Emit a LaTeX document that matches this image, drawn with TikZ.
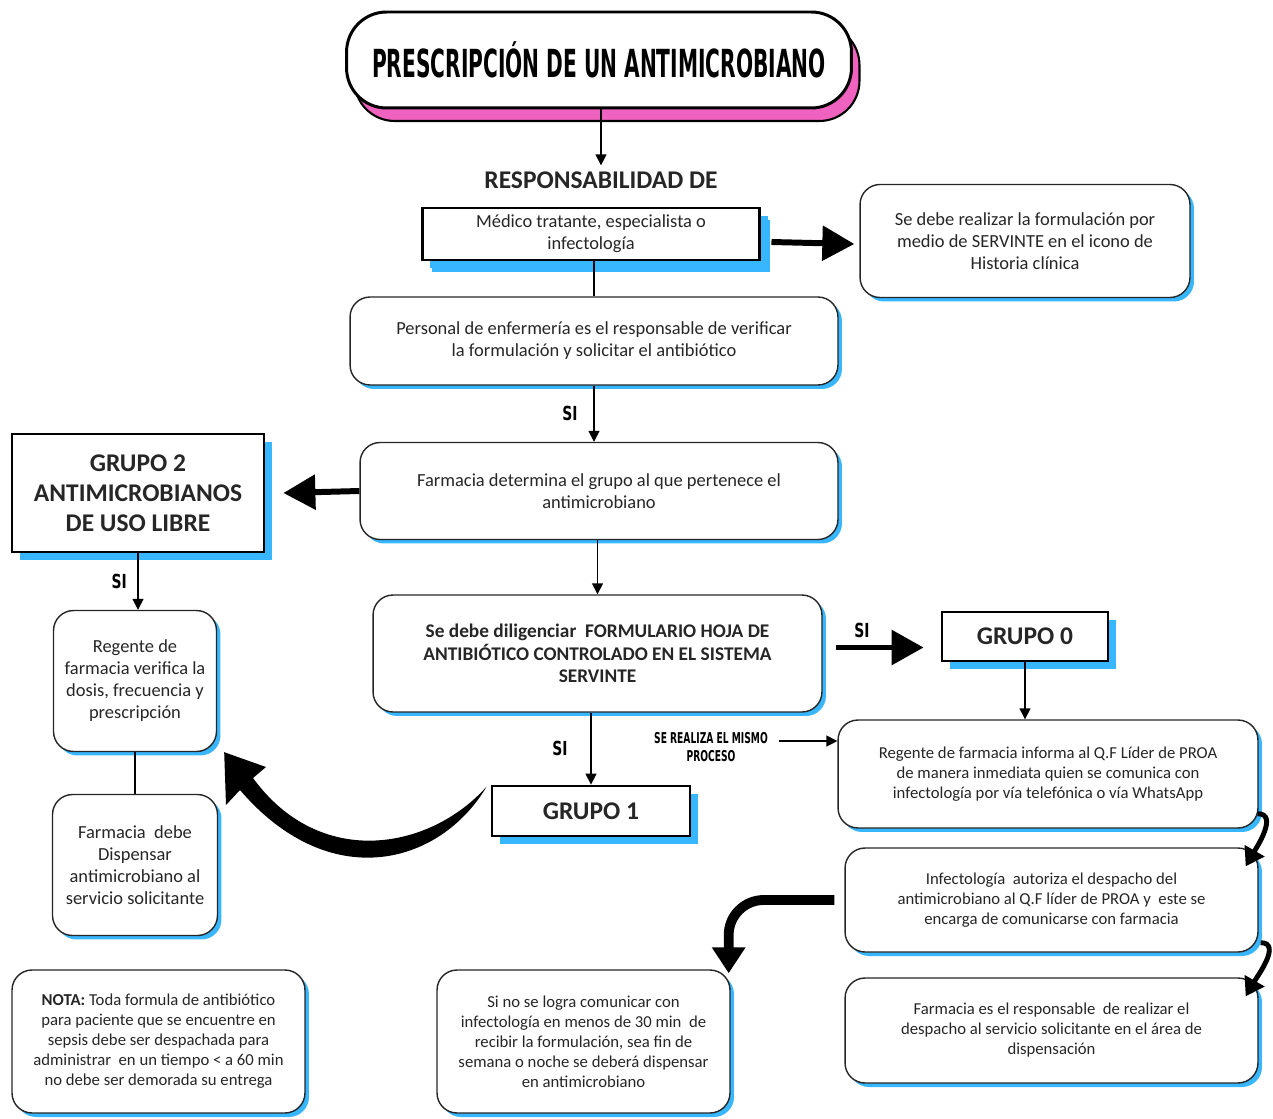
\documentclass[tikz,border=0pt]{standalone}
\usepackage{fontspec}
\setmainfont{Carlito}
\newfontfamily\headfont{DejaVu Sans Condensed}
\usepackage{xcolor}
\usetikzlibrary{arrows.meta, positioning, shadows}
\definecolor{celeste}{RGB}{56,182,255}
\definecolor{rosa}{RGB}{240,98,192}

\begin{document}
\begin{tikzpicture}[
  x=0.02cm, y=-0.02cm,
  rbox/.style={
    draw=black!85,
    fill=white,
    line width=0.8pt,
    rounded corners=0.4cm,
    align=center,
    text=black!85,
    inner sep=2pt,
    drop shadow={shadow xshift=0.08cm, shadow yshift=-0.08cm, fill=celeste, opacity=1}
  },
  gbox/.style={
    draw,
    fill=white,
    line width=1.6pt,
    align=center,
    inner sep=2pt,
    font=\fontsize{14.5}{17}\selectfont\bfseries,
    text=black!85,
    drop shadow={shadow xshift=0.16cm, shadow yshift=-0.16cm, fill=celeste, opacity=1}
  },
  arr/.style={
    -{Triangle[length=2.2mm, width=2.2mm]},
    line width=0.8pt
  },
  bigarr/.style={
    -{Triangle[length=6.4mm, width=6.8mm]},
    line width=3.4pt
  },
  fatarr/.style={
    -{Triangle[length=5.2mm, width=6.4mm]},
    line width=5.6pt
  },
  sidearr/.style={
    -{Triangle[length=3.6mm, width=4.4mm]},
    line width=2.8pt
  },
  lbl/.style={
    font=\headfont\bfseries\fontsize{11}{12}\selectfont,
    inner sep=1pt
  },
  big/.style={font=\fontsize{10.5}{12.5}\selectfont},
  small/.style={font=\fontsize{9.5}{11.4}\selectfont}
]
\useasboundingbox (0,0) rectangle (1273,1118);

% title
\node [draw, fill=white, line width=1.7pt, rounded corners=0.8cm,
       minimum width=10.1cm, minimum height=1.92cm,
       drop shadow={shadow xshift=0.16cm, shadow yshift=-0.26cm, fill=rosa,
                    draw=black, line width=1.2pt, opacity=1}]
  (tit) at (599,60)
  {\scalebox{0.58}[1]{\headfont\bfseries\fontsize{22}{24}\selectfont PRESCRIPCIÓN DE UN ANTIMICROBIANO}};

\node [font=\fontsize{14.5}{16}\selectfont\bfseries, text=black!85] (resp) at (601,180) {RESPONSABILIDAD DE};
\draw [arr] (resp.north |- tit.south) -- (resp.north);

% top row
\node [gbox, font=\fontsize{10.5}{12.5}\selectfont, line width=1.7pt,
       minimum width=6.76cm, minimum height=1.04cm,
       drop shadow={shadow xshift=0.2cm, shadow yshift=-0.24cm, fill=celeste, opacity=1}]
  (med) at (591,234) {Médico tratante, especialista o\\infectología};
\node [rbox, big, minimum width=6.6cm, minimum height=2.26cm] (serv) at (1025,241)
  {Se debe realizar la formulación por\\medio de SERVINTE en el icono de\\Historia clínica};
\draw [bigarr] ([shift={(10,8)}]med.east) -- ([shift={(-5,3)}]serv.west);

\node [rbox, big, minimum width=9.76cm, minimum height=1.76cm] (enf) at (594,341)
  {Personal de enfermería es el responsable de verificar\\la formulación y solicitar el antibiótico};
\draw [line width=0.8pt] (enf.north |- med.south) -- (enf.north);

\node [rbox, big, minimum width=9.56cm, minimum height=1.94cm] (farm) at (599,491)
  {Farmacia determina el grupo al que pertenece el\\antimicrobiano};
\draw [arr] (enf.south) -- node [lbl, left=8pt] (si1) {\scalebox{0.8}[1]{SI}} (enf.south |- farm.north);

% grupo 2
\node [gbox, minimum width=5.04cm, minimum height=2.36cm] (g2) at (138,493)
  {GRUPO 2\\ANTIMICROBIANOS\\DE USO LIBRE};
\draw [bigarr] (farm.west) -- ([xshift=0.36cm]g2.east);

\node [rbox, big, minimum width=3.26cm, minimum height=2.82cm] (reg) at (135,681)
  {Regente de\\farmacia verifica la\\dosis, frecuencia y\\prescripción};
\draw [arr] (g2.south) -- node [lbl, left=5pt] (si2) {\scalebox{0.8}[1]{SI}} (g2.south |- reg.north);

\node [rbox, big, minimum width=3.3cm, minimum height=2.82cm] (disp) at (135,865)
  {Farmacia \ debe\\Dispensar\\antimicrobiano al\\servicio solicitante};
\draw [line width=0.8pt] (reg.south) -- (reg.south |- disp.north);

% formulario
\node [rbox, minimum width=8.98cm, minimum height=2.34cm,
       font=\fontsize{11}{12.8}\selectfont\bfseries] (dil) at (597.5,653.5)
  {Se debe diligenciar \ FORMULARIO HOJA DE\\ANTIBIÓTICO CONTROLADO EN EL SISTEMA\\SERVINTE};
\draw [arr] (dil.north |- farm.south) -- (dil.north);

% grupo 0
\node [gbox, minimum width=3.32cm, minimum height=0.98cm] (g0) at (1025,636.5) {GRUPO 0};
\draw [bigarr] ([shift={(13,-6)}]dil.east) -- node [lbl, pos=0.3, above=3pt] (si3) {\scalebox{0.8}[1]{SI}}
  ([shift={(-17,11)}]g0.west);

\node [rbox, small, minimum width=8.4cm, minimum height=2.16cm] (ri) at (1048,774)
  {Regente de farmacia informa al Q.F Líder de PROA\\de manera inmediata quien se comunica con\\infectología por vía telefónica o vía WhatsApp};
\draw [arr] (g0.south) -- (g0.south |- ri.north);

% grupo 1
\node [gbox, minimum width=3.96cm, minimum height=1cm] (g1) at (591,811) {GRUPO 1};
\draw [arr] (g1.north |- dil.south) -- node [lbl, left=12pt] (si4) {\scalebox{0.8}[1]{SI}} (g1.north);

\node [align=center, font=\headfont\bfseries\fontsize{8.5}{10.6}\selectfont, inner sep=2pt]
  (mismo) at (711,747) {\scalebox{0.68}[1]{SE REALIZA EL MISMO}\\\scalebox{0.68}[1]{PROCESO}};
\coordinate (m1) at ([yshift=3.4pt]mismo.east);
\draw [arr] ([xshift=4pt]m1) -- (m1 -| ri.west);

\node [rbox, small, minimum width=8.26cm, minimum height=2.08cm] (inf) at (1051.5,900)
  {Infectología \ autoriza el despacho del\\antimicrobiano al Q.F líder de PROA y \ este se\\encarga de comunicarse con farmacia};
\node [rbox, small, minimum width=8.26cm, minimum height=2.1cm] (fe) at (1051.5,1030.5)
  {Farmacia es el responsable \ de realizar el\\despacho al servicio solicitante en el área de\\dispensación};
\draw [sidearr] ([shift={(-1,-15)}]ri.south east) to [out=0, in=60] ([shift={(-13,19)}]inf.north east);
\draw [sidearr] ([shift={(2,-10)}]inf.south east) to [out=0, in=60] ([shift={(-13,19)}]fe.north east);

% bottom notes
\node [rbox, small, minimum width=5.86cm, minimum height=2.86cm] (nota) at (158.5,1041.5)
  {\textbf{NOTA:} Toda formula de antibiótico\\para paciente que se encuentre en\\sepsis debe ser despachada para\\administrar \ en un tiempo < a 60 min\\no debe ser demorada su entrega};
\node [rbox, small, minimum width=5.86cm, minimum height=2.86cm] (sino) at (583.5,1041.5)
  {Si no se logra comunicar con\\infectología en menos de 30 min \ de\\recibir la formulación, sea fin de\\semana o noche se deberá dispensar\\en antimicrobiano};
\draw [fatarr, rounded corners=0.7cm] ([xshift=-0.2cm]inf.west) -| ([shift={(-2,4)}]sino.north east);

% curved arrow grupo 1 -> regente
\fill ([shift={(-4,2)}]g1.north west) .. controls (440,865) and (330,895) .. (240,790)
  -- (226,805) -- ([shift={(7,0)}]reg.south east) -- (266,767) -- (253,778)
  .. controls (320,870) and (430,850) .. ([shift={(-4,2)}]g1.north west) -- cycle;

\end{tikzpicture}
\end{document}
